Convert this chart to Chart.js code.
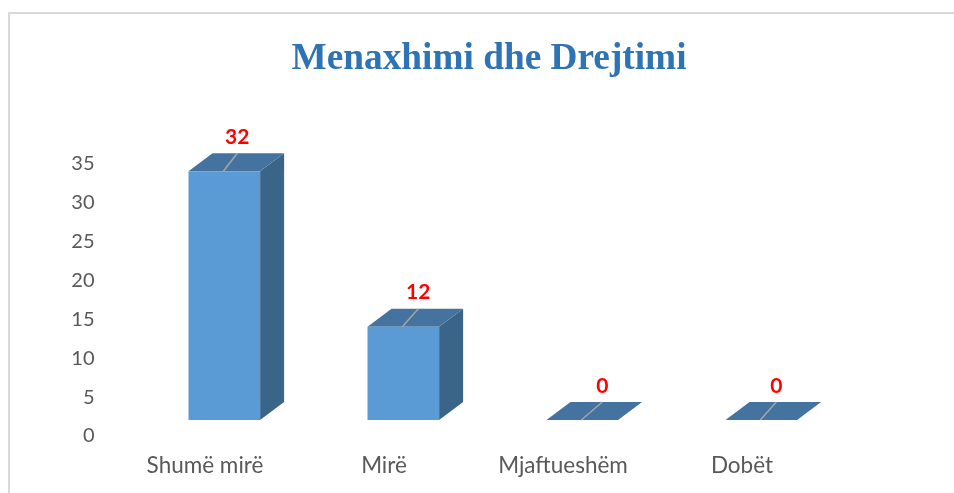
<!DOCTYPE html>
<html lang="en">
<head>
  <meta charset="UTF-8" />
  <title>Menaxhimi dhe Drejtimi</title>
  <script src="https://cdn.jsdelivr.net/npm/chart.js"></script>
  <style>
    body { margin: 0; padding: 0; background: #fff; overflow: hidden; }
    .wrap { position: relative; width: 954px; height: 493px; }
    .frame {
      position: absolute; left: 8px; top: 12px; right: 0; bottom: 0;
      border-left: 2px solid #d9d9d9; border-top: 2px solid #d9d9d9;
    }
    canvas { position: absolute; left: 0; top: 0; }
  </style>
</head>
<body>
  <div class="wrap">
    <div class="frame"></div>
    <canvas id="chart" width="954" height="493"></canvas>
  </div>

  <script>
    const titleText = 'Menaxhimi dhe Drejtimi';
    const categories = ['Shumë mirë', 'Mirë', 'Mjaftueshëm', 'Dobët'];
    const values = [32, 12, 0, 0];
    const yTicks = [0, 5, 10, 15, 20, 25, 30, 35];

    // fake 3d: front face sits up and right of the axis, side and top go back from it
    const shiftX = 19.3, shiftY = -16;
    const depthX = 24, depthY = -18;
    const labelFont = '"Lato", "Open Sans", sans-serif';

    const fake3d = {
      id: 'fake3d',
      afterLayout(chart) {
        // title is centred on the plot as the original, not on the canvas
        chart.titleBlock.left = 100;
        chart.titleBlock.right = 878;
      },
      beforeDatasetsDraw(chart) {
        const ctx = chart.ctx;
        chart.getDatasetMeta(0).data.forEach(bar => {
          const half = bar.width / 2;
          const l = bar.x - half + shiftX, r = bar.x + half + shiftX;
          const t = bar.y + shiftY, b = bar.base + shiftY;
          ctx.fillStyle = '#3a6488';
          ctx.beginPath();
          ctx.moveTo(r, t);
          ctx.lineTo(r + depthX, t + depthY);
          ctx.lineTo(r + depthX, b + depthY);
          ctx.lineTo(r, b);
          ctx.closePath();
          ctx.fill();
          ctx.fillStyle = '#44739f';
          ctx.beginPath();
          ctx.moveTo(l, t);
          ctx.lineTo(l + depthX, t + depthY);
          ctx.lineTo(r + depthX, t + depthY);
          ctx.lineTo(r, t);
          ctx.closePath();
          ctx.fill();
        });
      },
      beforeDatasetDraw(chart) {
        chart.ctx.save();
        chart.ctx.translate(shiftX, shiftY);
      },
      afterDatasetDraw(chart) {
        chart.ctx.restore();
      },
      afterDatasetsDraw(chart) {
        const ctx = chart.ctx;
        chart.getDatasetMeta(0).data.forEach((bar, i) => {
          const x = bar.x + shiftX, y = bar.y + shiftY;
          const lead = i === 0 ? 13 : i === 2 ? 20 : 15;
          ctx.strokeStyle = '#a6a6a6';
          ctx.lineWidth = 1.5;
          ctx.beginPath();
          ctx.moveTo(x - 1, y);
          ctx.lineTo(x + lead, y + depthY);
          ctx.stroke();
          ctx.fillStyle = '#ff0000';
          ctx.font = 'bold 21px ' + labelFont;
          ctx.textAlign = 'center';
          ctx.textBaseline = 'middle';
          ctx.fillText(values[i], x + lead, y - 34);
        });
      }
    };

    new Chart(document.getElementById('chart'), {
      type: 'bar',
      data: {
        labels: categories,
        datasets: [{
          data: values,
          backgroundColor: '#5b9bd5',
          borderWidth: 0,
          barPercentage: 1,
          categoryPercentage: 0.4
        }]
      },
      options: {
        responsive: false,
        animation: false,
        layout: { padding: { left: 0, right: 122.5, top: 0, bottom: 0 } },
        plugins: {
          legend: { display: false },
          tooltip: { enabled: false },
          title: {
            display: true,
            text: titleText,
            color: '#2e74b5',
            font: { family: '"Liberation Serif", serif', size: 37.3, weight: 'bold' },
            padding: { top: 36.5, bottom: 82.7 }
          }
        },
        scales: {
          x: {
            grid: { display: false, drawTicks: false },
            border: { display: false },
            ticks: { color: '#595959', font: { family: labelFont, size: 22.5 }, padding: 16, maxRotation: 0 },
            afterFit(scale) { scale.height = 57; }
          },
          y: {
            min: 0,
            max: 35,
            afterBuildTicks(scale) { scale.ticks = yTicks.map(v => ({ value: v })); },
            grid: { display: false, drawTicks: false },
            border: { display: false },
            ticks: { color: '#595959', font: { family: labelFont, size: 20 }, padding: 21 },
            afterFit(scale) { scale.width = 115.5; }
          }
        }
      },
      plugins: [fake3d]
    });
  </script>
</body>
</html>
